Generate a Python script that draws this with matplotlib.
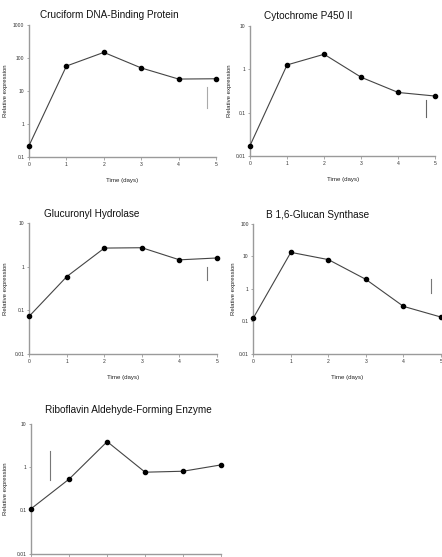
import matplotlib
matplotlib.use("Agg")
import matplotlib.pyplot as plt
from matplotlib.ticker import FixedLocator, FixedFormatter, NullLocator

plt.rcParams['font.family'] = ['Liberation Sans', 'DejaVu Sans']

days = [0, 1, 2, 3, 4, 5]

titles = ["Cruciform DNA-Binding Protein", "Cytochrome P450 II",
          "Glucuronyl Hydrolase", "\u0392 1,6-Glucan Synthase",
          "Riboflavin Aldehyde-Forming Enzyme"]

cruciform = [0.22, 57, 148, 50, 23, 23.5]
cytochrome = [0.0173, 1.25, 2.2, 0.65, 0.29, 0.24]
glucuronyl = [0.074, 0.60, 2.7, 2.75, 1.45, 1.6]
glucan = [0.127, 13.2, 7.9, 1.95, 0.29, 0.136]
riboflavin = [0.11, 0.53, 3.86, 0.76, 0.80, 1.12]
series = [cruciform, cytochrome, glucuronyl, glucan, riboflavin]

ylims = [(0.1, 1000), (0.01, 10), (0.01, 10), (0.01, 100), (0.01, 10)]
yticks = [[0.1, 1, 10, 100, 1000], [0.01, 0.1, 1, 10], [0.01, 0.1, 1, 10],
          [0.01, 0.1, 1, 10, 100], [0.01, 0.1, 1, 10]]
ytick_labels = [["0.1", "1", "10", "100", "1000"], ["0.01", "0.1", "1", "10"],
                ["0.01", "0.1", "1", "10"], ["0.01", "0.1", "1", "10", "100"],
                ["0.01", "0.1", "1", "10"]]

# scale bars (x position in days, low, high)
bar_x = [4.75, 4.76, 4.74, 4.74, 0.50]
bar_lo = [3.1, 0.08, 0.5, 0.76, 0.5]
bar_hi = [12.9, 0.195, 0.98, 2.0, 2.35]
bar_col = ["#aaaaaa", "#666666", "#777777", "#777777", "#777777"]

W, H = 442, 557
# axes boxes in pixels: left, right, top, bottom
boxes = [(29, 216, 25, 157), (250, 435.3, 25.7, 156),
         (29.3, 217, 223.3, 354), (253.3, 441, 223.7, 354),
         (31.3, 221, 423.7, 553.7)]
title_x = [0.43, 0.316, 0.33, 0.345, 0.51]
title_dy = [9.5, 9.5, 9.5, 9, 14]
ylabel_px = [6, 229, 6, 233, 6]

fig = plt.figure(figsize=(W / 100, H / 100), dpi=100)
spine_col = "#9a9a9a"
for i in range(5):
    l, r, t, b = boxes[i]
    ax = fig.add_axes([l / W, 1 - b / H, (r - l) / W, (b - t) / H])
    ax.set_yscale('log')
    ax.set_xlim(0, 5)
    ax.set_ylim(*ylims[i])
    ax.plot(days, series[i], color="#444444", lw=0.8, marker='o',
            markersize=3.0, markerfacecolor='black', markeredgecolor='black',
            clip_on=False, zorder=3)
    ax.plot([bar_x[i], bar_x[i]], [bar_lo[i], bar_hi[i]], color=bar_col[i], lw=0.8)
    for s in ['top', 'right']:
        ax.spines[s].set_visible(False)
    for s in ['left', 'bottom']:
        ax.spines[s].set_color(spine_col)
        ax.spines[s].set_linewidth(1.0)
    ax.yaxis.set_major_locator(FixedLocator(yticks[i]))
    ax.yaxis.set_major_formatter(FixedFormatter(ytick_labels[i]))
    ax.yaxis.set_minor_locator(NullLocator())
    ax.set_xticks(days)
    if i < 4:
        ax.set_xticklabels([str(d) for d in days])
        ax.set_xlabel("Time (days)", fontsize=4.4, labelpad=8, color="#222222")
    else:
        ax.set_xticklabels([""] * 6)
    ax.tick_params(axis='both', length=1.8, width=0.6, color=spine_col,
                   labelsize=3.6, pad=1.5, labelcolor="#333333")
    ax.set_ylabel("Relative expression", fontsize=4.3, va='center', color="#222222")
    ax.yaxis.set_label_coords((ylabel_px[i] - l) / (r - l), 0.5)
    ax.text(title_x[i], 1 + title_dy[i] / ((b - t)), titles[i],
            transform=ax.transAxes, ha='center', va='center', fontsize=7.2,
            color="#111111")

fig.savefig("out.png", dpi=100)
